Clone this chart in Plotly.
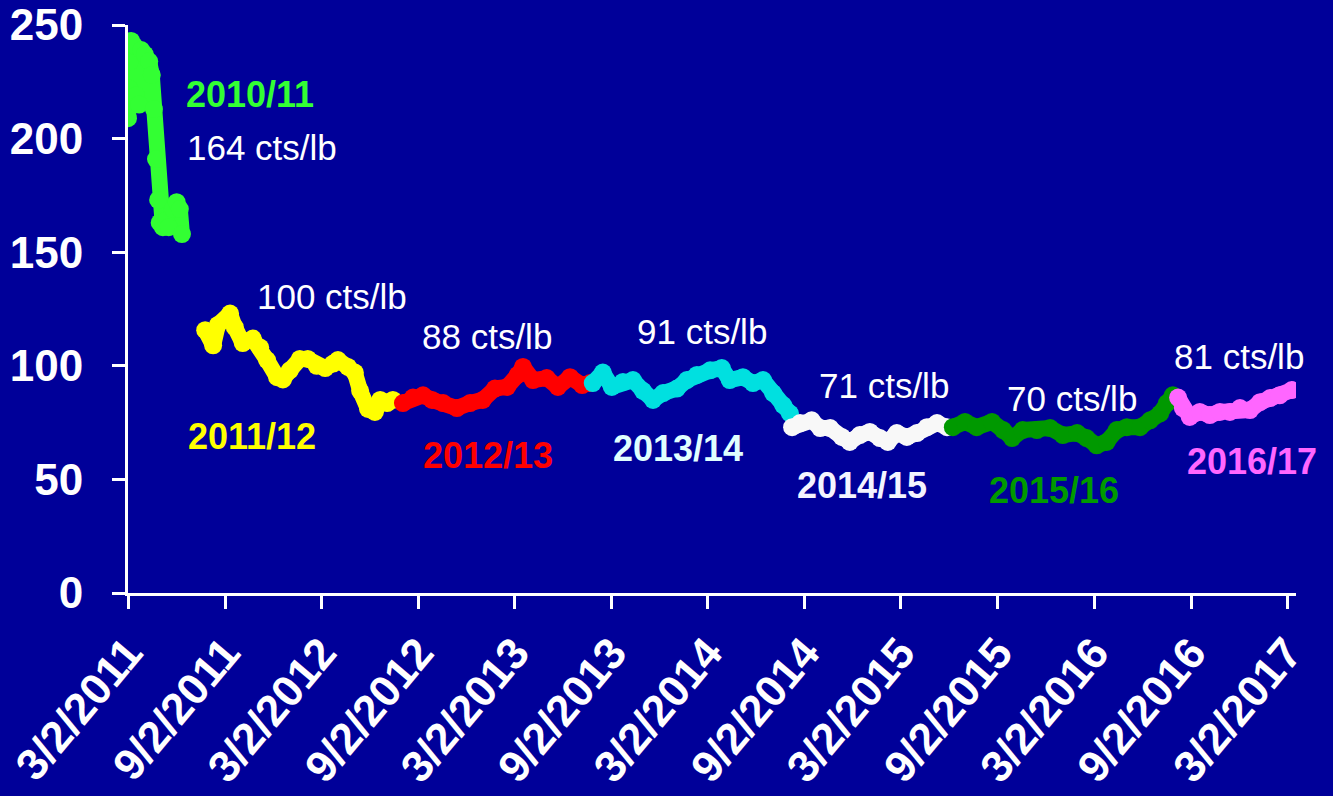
import plotly.graph_objects as go

# ---------------- data ----------------
dates_1011 = ["2011-03-02", "2011-03-04", "2011-03-06", "2011-03-08", "2011-03-13", "2011-03-17",
              "2011-03-23", "2011-03-27", "2011-04-03", "2011-04-11", "2011-04-16", "2011-04-20",
              "2011-04-24", "2011-04-28", "2011-05-01", "2011-05-07", "2011-05-13", "2011-05-18",
              "2011-05-26", "2011-06-02", "2011-06-08", "2011-06-12"]
prices_1011 = [209, 222, 234, 243, 241, 219, 215, 239, 237, 234, 228, 213,
               191, 173, 163, 161, 164, 161, 169, 172, 169, 158]

dates_1112 = ["2011-07-26", "2011-08-10", "2011-08-19", "2011-09-11", "2011-09-20", "2011-10-05",
              "2011-10-24", "2011-11-07", "2011-11-20", "2011-12-09", "2011-12-20", "2012-01-02",
              "2012-01-21", "2012-02-05", "2012-02-22", "2012-03-09", "2012-03-24", "2012-04-02",
              "2012-04-21", "2012-05-04", "2012-05-14", "2012-05-29", "2012-06-11", "2012-06-21",
              "2012-07-04", "2012-07-15"]
prices_1112 = [115.7, 109, 118, 123, 117, 110, 112, 108, 102.5, 95, 94, 98,
               103, 103, 100, 99, 101, 102.5, 99.5, 97, 89, 81, 79.7, 85,
               83.6, 85]

dates_1213 = ["2012-08-03", "2012-08-22", "2012-09-10", "2012-09-27", "2012-10-18", "2012-11-13",
              "2012-12-08", "2013-01-01", "2013-01-24", "2013-02-16", "2013-03-08", "2013-03-18",
              "2013-04-06", "2013-05-02", "2013-05-23", "2013-06-15", "2013-07-08", "2013-07-23"]
prices_1213 = [83.6, 86, 87, 85, 83.6, 81.4, 83.6, 85, 90, 90.7, 96, 99.5,
               93.7, 94.6, 90.7, 95, 91.5, 92.4]

dates_1314 = ["2013-07-28", "2013-08-16", "2013-09-02", "2013-09-23", "2013-10-12", "2013-10-31",
              "2013-11-19", "2013-12-08", "2014-01-03", "2014-01-22", "2014-02-10", "2014-03-07",
              "2014-03-29", "2014-04-13", "2014-05-08", "2014-05-27", "2014-06-15", "2014-07-04",
              "2014-07-23", "2014-08-05"]
prices_1314 = [92.4, 97, 90.7, 92.9, 93.7, 89, 85, 88, 90, 93.7, 96, 98,
               99, 93.7, 95, 92.4, 93.7, 88, 82.7, 79]

dates_1415 = ["2014-08-09", "2014-08-24", "2014-09-15", "2014-10-01", "2014-10-20", "2014-11-11",
              "2014-11-26", "2014-12-15", "2015-01-03", "2015-01-22", "2015-02-06", "2015-02-23",
              "2015-03-14", "2015-04-02", "2015-04-21", "2015-05-10", "2015-05-29"]
prices_1415 = [73, 74.8, 76, 72.6, 72.6, 68.7, 66.5, 69.5, 70.9, 68.2, 66.5, 70.4,
               68.7, 70.4, 73, 74.8, 73]

dates_1516 = ["2015-06-09", "2015-07-02", "2015-07-24", "2015-08-22", "2015-09-12", "2015-09-29",
              "2015-10-19", "2015-11-15", "2015-12-10", "2016-01-03", "2016-01-30", "2016-02-17",
              "2016-03-07", "2016-03-26", "2016-04-14", "2016-05-03", "2016-05-28", "2016-06-16",
              "2016-07-05", "2016-07-18", "2016-07-29"]
prices_1516 = [73, 75.3, 73, 75.3, 71.7, 68.2, 71.7, 71.7, 72.6, 69.5, 70.4, 68.2,
               65, 66.5, 71.7, 73, 73, 76, 79, 83.6, 87]

dates_1617 = ["2016-08-08", "2016-08-17", "2016-08-30", "2016-09-18", "2016-10-07", "2016-10-26",
              "2016-11-14", "2016-12-03", "2016-12-22", "2017-01-10", "2017-01-29", "2017-02-16",
              "2017-03-11"]
prices_1617 = [86, 81.4, 77.5, 79.7, 78.3, 79.7, 79.7, 81.4, 80.5, 84, 85.8, 87, 89.3]

season_names = ["2010/11", "2011/12", "2012/13", "2013/14", "2014/15", "2015/16", "2016/17"]
season_avgs = ["164 cts/lb", "100 cts/lb", "88 cts/lb", "91 cts/lb", "71 cts/lb", "70 cts/lb", "81 cts/lb"]
line_colors = ["#33FF33", "#FFFF00", "#FF0000", "#00E0E0", "#F8F8F8", "#009900", "#FF66FF"]
name_colors = ["#33FF33", "#FFFF00", "#FF0000", "#E0FFFF", "#F4F4FF", "#009900", "#FF66FF"]

# label anchor positions (data coords)
name_x = ["2011-10-19", "2011-10-22", "2013-01-10", "2014-01-05", "2014-12-19", "2015-12-17", "2016-12-25"]
name_y = [219.2, 68.7, 60.7, 63.4, 47.1, 44.9, 58.1]
avg_x = ["2011-11-10", "2012-03-22", "2013-01-09", "2014-02-19", "2015-01-30", "2016-01-20", "2016-12-01"]
avg_y = [196.3, 130.3, 112.7, 115.3, 91.5, 85.8, 104.3]

tick_vals = ["2011-03-02", "2011-09-02", "2012-03-02", "2012-09-02", "2013-03-02", "2013-09-02",
             "2014-03-02", "2014-09-02", "2015-03-02", "2015-09-02", "2016-03-02", "2016-09-02",
             "2017-03-02"]
tick_text = ["3/2/2011", "9/2/2011", "3/2/2012", "9/2/2012", "3/2/2013", "9/2/2013",
             "3/2/2014", "9/2/2014", "3/2/2015", "9/2/2015", "3/2/2016", "9/2/2016",
             "3/2/2017"]

BG = "rgb(0,0,153)"
FONT = "Arial, Liberation Sans, sans-serif"

all_dates = [dates_1011, dates_1112, dates_1213, dates_1314, dates_1415, dates_1516, dates_1617]
all_prices = [prices_1011, prices_1112, prices_1213, prices_1314, prices_1415, prices_1516, prices_1617]

fig = go.Figure()
for d, p, c, n in zip(all_dates, all_prices, line_colors, season_names):
    fig.add_trace(go.Scatter(
        x=d, y=p, mode="lines+markers", name=n,
        line=dict(color=c, width=16),
        marker=dict(color=c, size=18, line=dict(width=0)),
        showlegend=False,
    ))

for i in range(len(season_names)):
    fig.add_annotation(x=name_x[i], y=name_y[i], text="<b>" + season_names[i] + "</b>",
                       showarrow=False, font=dict(family=FONT, size=36, color=name_colors[i]))
    fig.add_annotation(x=avg_x[i], y=avg_y[i], text=season_avgs[i],
                       showarrow=False, font=dict(family=FONT, size=35, color="white"))

fig.update_layout(
    width=1333, height=796,
    paper_bgcolor=BG, plot_bgcolor=BG,
    margin=dict(l=128, r=37, t=25, b=203),
    font=dict(family=FONT, color="white"),
)
fig.update_xaxes(
    type="date", range=["2011-03-02", "2017-03-19"], automargin=False,
    tickmode="array", tickvals=tick_vals, ticktext=tick_text, tickangle=-50,
    tickfont=dict(family=FONT, size=44, color="white", weight="bold"),
    showgrid=False, zeroline=False,
    showline=True, linecolor="white", linewidth=3,
    ticks="outside", ticklen=13, tickwidth=3, tickcolor="white",
)
fig.update_yaxes(
    range=[0, 250], tickvals=[0, 50, 100, 150, 200, 250], automargin=False,
    tickfont=dict(family=FONT, size=44, color="white", weight="bold"),
    showgrid=False, zeroline=False,
    showline=True, linecolor="white", linewidth=3,
    ticks="outside", ticklen=13, tickwidth=3, tickcolor="white",
    ticklabelstandoff=20,
)

post = (
    "document.body.style.margin='0';"
    "document.body.style.background='rgb(0,0,153)';"
    "document.querySelectorAll('.scatterlayer path.js-line').forEach(function(p){"
    "p.style.strokeLinejoin='round';p.style.strokeLinecap='round';});"
)
fig.write_html("out.html", config={"displayModeBar": False}, post_script=post)
